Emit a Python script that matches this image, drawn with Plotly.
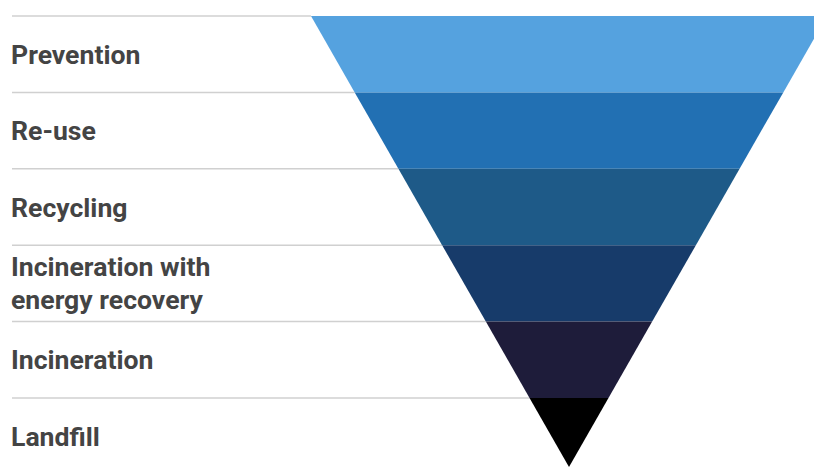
import plotly.graph_objects as go

# Data
categories = ["Prevention", "Re-use", "Recycling",
              ["Incineration with", "energy recovery"], "Incineration", "Landfill"]
colors = ["#55A2DF", "#2270B3", "#1E5A88", "#173B6A", "#1E1C3A", "#000000"]

W, H = 814, 467
top_y = 16
band_h = 76.4
apex_x, apex_y = 569, 467
top_left_x = 311
slope = (apex_x - top_left_x) / (apex_y - top_y)

def half_width(y):
    return (apex_y - y) * slope

fig = go.Figure()
n = len(categories)
for i, (cat, col) in enumerate(zip(categories, colors)):
    y0 = top_y + i * band_h
    y1 = min(top_y + (i + 1) * band_h, apex_y)
    w0, w1 = half_width(y0), half_width(y1)
    xs = [apex_x - w0, apex_x + w0, apex_x + w1, apex_x - w1, apex_x - w0]
    ys = [y0, y0, y1, y1, y0]
    fig.add_trace(go.Scatter(x=xs, y=ys, fill="toself", fillcolor=col,
                             mode="lines", line=dict(width=0, color=col),
                             hoverinfo="skip", showlegend=False))
    # separator line
    fig.add_shape(type="line", x0=12, x1=apex_x - w0, y0=y0, y1=y0,
                  line=dict(color="#d0d0d0", width=1.5), layer="below")
    yc = (y0 + top_y + (i + 1) * band_h) / 2
    if isinstance(cat, list):
        for k, t in enumerate(cat):
            fig.add_annotation(x=9, y=yc - 16.5 + 33 * k, text="<b>%s</b>" % t,
                               xanchor="left", yanchor="middle", showarrow=False,
                               font=dict(family="Roboto", size=26.6, color="#444444"))
    else:
        fig.add_annotation(x=9, y=yc, text="<b>%s</b>" % cat,
                           xanchor="left", yanchor="middle", showarrow=False,
                           font=dict(family="Roboto", size=26.6, color="#444444"))

fig.update_layout(
    width=W, height=H, margin=dict(l=0, r=0, t=0, b=0),
    paper_bgcolor="white", plot_bgcolor="white",
    xaxis=dict(range=[0, W], visible=False, fixedrange=True),
    yaxis=dict(range=[H, 0], visible=False, fixedrange=True),
)
fig.write_html("out.html")
